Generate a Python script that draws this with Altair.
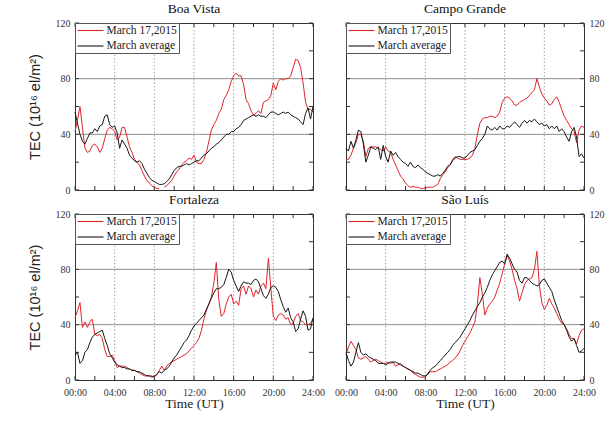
import altair as alt
import pandas as pd

# Universal time grid, quarter-hour samples from 00:00 to 24:00
hours = [i * 0.25 for i in range(97)]

STORM = "March 17,2015"
AVG = "March average"

boa_vista_storm = [
    42, 50, 60, 45, 30, 27, 28, 32, 33, 31, 27, 30, 37, 43, 45, 44,
    42, 36, 38, 45, 45, 38, 31, 27, 22, 20, 18, 14, 10, 7, 5, 3,
    2, 1, 1, None, 2, 3, 5, 7, 10, 13, 15, 18, 20, 21, 23, 22,
    25, 20, 19, 19, 22, 27, 35, 43, 47, 50, 55, 58, 65, 68, 72, 78,
    82, 84, 82, 82, 76, 65, 62, 57, 54, 55, 57, 55, 63, 64, 65, 68,
    77, 72, 78, 80, 79, 80, 80, 82, 88, 94, 93, 88, 77, 63, 58, 58,
    56,
]
boa_vista_avg = [
    56, 48, 40, 35, 33, 37, 41, 41, 44, 42, 46, 47, 53, 54, 47, 45,
    46, 41, 30, 36, 33, 30, 25, 23, 21, 20, 21, 19, 15, 12, 9, 7,
    6, 5, 4, 4, 4.5, 6, 8, 11, 14, 16, 17, 17, 18, 19, 18, 19,
    20, 21, 21, 23, 25, 26, 28, 30, 31, 33, 34, 36, 38, 40, 40, 42,
    42, 44, 45, 47, 50, 51, 52, 53, 54, 53, 54, 53, 53, 52, 54, 56,
    56, 55, 54, 55, 56, 55, 56, 54, 53, 52, 51, 49, 47, 55, 59, 51,
    60,
]

campo_grande_storm = [
    22, 22, 25, 30, 34, 40, 40, 35, 24, 30, 31, 31, 31, 30, 29, 28,
    31, 28, 27, 22, 18, 14, 10, 8, 5, 3, 2, 2.5, 2, 2, 1, 1,
    1.5, 2, 2, 2, 3, 4, 8, 11, 13, 16, 18, 22, 24, 23, 22, 22,
    22, 22, 23, 25, 30, 40, 48, 51, 52, 52, 53, 53, 52, 53, 56, 63,
    66, 67, 66, 64, 61, 61, 63, 64, 65, 66, 68, 70, 72, 80, 74, 69,
    66, 64, 61, 62, 65, 67, 63, 58, 53, 50, 47, 44, 42, 34, 43, 46,
    45,
]
campo_grande_avg = [
    30, 28, 35, 30, 36, 43, 42, 33, 20, 25, 31, 30, 29, 31, 22, 32,
    24, 20, 28, 25, 27, 24, 22, 20, 19, 17, 20, 17, 16, 18, 16, 15,
    13, 12, 11, 10, 10, 11, 10, 12, 14, 17, 18, 21, 23, 24, 24, 23,
    23, 25, 27, 28, 29, 32, 35, 37, 40, 46, 44, 43, 45, 43, 46, 44,
    44, 46, 45, 47, 49, 47, 45, 48, 50, 48, 50, 49, 51, 49, 47, 48,
    46, 47, 44, 46, 44, 46, 42, 44, 42, 38, 35, 42, 45, 38, 24, 26,
    23,
]

fortaleza_storm = [
    45, 50, 56, 38, 42, 38, 42, 44, 33, 32, 33, 30, 22, 17, 17, 18,
    14, 9, 10, 10, 10, 9, 8, 7, 7, 6, 5, 4, 3, 3, 3, 3,
    2, 4, 7, 10, 7, 10, 12, 13, 14, 15, 16, 17, 18, 19, 21, 23,
    25, 27, 30, 36, 44, 50, 55, 60, 70, 85, 58, 46, 48, 55, 60, 62,
    55, 57, 54, 66, 68, 62, 68, 66, 60, 65, 62, 68, 70, 66, 88, 66,
    46, 43, 47, 48, 47, 44, 45, 40, 41, 46, 48, 43, 42, 40, 40, 41,
    44,
]
fortaleza_avg = [
    18, 20, 12, 14, 20, 22, 27, 31, 33, 34, 35, 36, 30, 25, 19, 16,
    13, 11, 10, 9, 9, 8, 8, 7, 7, 6, 6, 5, 4, 3, 3, 2,
    3, 4, 6, 5, 7, 8, 10, 13, 16, 18, 21, 24, 27, 29, 32, 36,
    39, 41, 43, 45, 47, 51, 55, 59, 63, 66, 66, 67, 69, 74, 80, 78,
    72, 68, 64, 68, 71, 70, 70, 69, 72, 73, 71, 66, 61, 59, 62, 67,
    68, 67, 64, 58, 53, 49, 52, 45, 42, 35, 37, 44, 50, 46, 36, 37,
    45,
]

sao_luis_storm = [
    18, 24, 28, 25, 22, 16, 15, 16, 17, 15, 13, 14, 15, 14, 13, 12,
    12, 13, 12, 13, 10, 11, 12, 10, 9, 8, 7, 5, 4, 3, 2, 2,
    2, 5, 6, 6, 6, 7, 8, 9, 10, 11, 13, 14, 16, 18, 21, 25,
    28, 31, 34, 38, 42, 55, 74, 62, 47, 52, 55, 57, 60, 65, 70, 77,
    84, 90, 86, 80, 72, 66, 57, 63, 69, 72, 73, 74, 80, 93, 68, 56,
    51, 54, 59, 55, 52, 48, 44, 41, 40, 37, 33, 30, 30, 26, 32, 36,
    37,
]
sao_luis_avg = [
    20, 14, 10, 13, 20, 27, 20, 18, 19, 17, 16, 15, 14, 12, 12, 12,
    11, 12, 13, 13, 13, 12, 11, 10, 9, 8, 7, 6, 5, 5, 4, 3,
    3, 4, 7, 9, 10, 12, 14, 16, 18, 20, 22, 25, 27, 29, 31, 34,
    37, 40, 43, 47, 50, 53, 56, 60, 63, 67, 72, 76, 79, 82, 85, 86,
    84, 91, 88, 84, 80, 78, 72, 70, 74, 74, 72, 70, 69, 68, 69, 72,
    73, 70, 67, 64, 58, 53, 48, 43, 40, 36, 31, 28, 30, 25, 20, 21,
    23,
]

x_tick_hours = [0, 4, 8, 12, 16, 20, 24]
minor_hours = list(range(0, 25, 2))
dotted_hours = [4, 8, 12, 16, 20]
y_tick_values = [0, 40, 80, 120]
minor_tec = list(range(0, 121, 20))
grid_tec = [40, 80]

SERIF = "Liberation Serif"
SANS = "Liberation Sans"
RED = "#e0242b"
BLACK = "#161616"
GRID = "#8c8c8c"

X_SCALE = alt.Scale(domain=[0, 24], nice=False, zero=False)
Y_SCALE = alt.Scale(domain=[0, 120], nice=False, zero=False)


def panel(name, storm, avg, left, bottom, w, h):
    df = pd.DataFrame({
        "hour": hours + hours,
        "tec": storm + avg,
        "series": [STORM] * len(hours) + [AVG] * len(hours),
    })

    if bottom:
        x_axis = alt.Axis(
            values=x_tick_hours,
            labelExpr="(datum.value < 10 ? '0' : '') + datum.value + ':00'",
            ticks=False, domain=False, grid=False,
            labelFont=SERIF, labelFontSize=10, labelColor="#333",
            labelPadding=7, labelFlush=False,
            title="Time (UT)", titleFont=SERIF, titleFontSize=13.5,
            titleFontWeight="normal", titleColor="#222", titleY=16,
        )
    else:
        x_axis = None

    y_axis = alt.Axis(
        orient="left" if left else "right",
        values=y_tick_values,
        ticks=False, domain=False, grid=False,
        labelFont=SERIF, labelFontSize=10, labelColor="#333", labelPadding=5,
        title="TEC (10¹⁶ el/m²)" if left else None,
        titleFont=SANS, titleFontSize=14.5, titleFontWeight="normal",
        titleColor="#222", titlePadding=13,
    )

    lines = alt.Chart(df).mark_line(
        strokeWidth=1, invalid="break-paths-show-domains"
    ).encode(
        x=alt.X("hour:Q", scale=X_SCALE, axis=x_axis),
        y=alt.Y("tec:Q", scale=Y_SCALE, axis=y_axis),
        color=alt.Color(
            "series:N",
            scale=alt.Scale(domain=[STORM, AVG], range=[RED, BLACK]),
            legend=alt.Legend(
                orient="top-left", offset=0, title=None,
                padding=1.5, rowPadding=3.5,
                strokeColor="#555", fillColor="white",
                symbolType="M-1,0H4.2", symbolSize=100, symbolStrokeWidth=1.1,
                labelFont=SERIF, labelFontSize=11.5, labelColor="#222",
                labelOffset=18, labelLimit=200,
            ),
        ),
    )

    vgrid = alt.Chart(pd.DataFrame({"hour": dotted_hours})).mark_rule(
        color=GRID, strokeWidth=0.8, strokeDash=[1.5, 2]
    ).encode(x=alt.X("hour:Q", scale=X_SCALE, axis=x_axis))

    hgrid = alt.Chart(pd.DataFrame({"tec": grid_tec})).mark_rule(
        color=GRID, strokeWidth=1
    ).encode(y=alt.Y("tec:Q", scale=Y_SCALE, axis=y_axis))

    xt = pd.DataFrame({"hour": minor_hours})
    yt = pd.DataFrame({"tec": minor_tec})
    tick_style = dict(color="#333", strokeWidth=1)
    ticks = [
        alt.Chart(xt).mark_rule(**tick_style).encode(
            x=alt.X("hour:Q", scale=X_SCALE, axis=x_axis),
            y=alt.value(h - 4), y2=alt.value(h)),
        alt.Chart(xt).mark_rule(**tick_style).encode(
            x=alt.X("hour:Q", scale=X_SCALE, axis=x_axis),
            y=alt.value(0), y2=alt.value(4)),
        alt.Chart(yt).mark_rule(**tick_style).encode(
            y=alt.Y("tec:Q", scale=Y_SCALE, axis=y_axis),
            x=alt.value(0), x2=alt.value(4)),
        alt.Chart(yt).mark_rule(**tick_style).encode(
            y=alt.Y("tec:Q", scale=Y_SCALE, axis=y_axis),
            x=alt.value(w - 4), x2=alt.value(w)),
    ]

    return alt.layer(vgrid, hgrid, *ticks, lines).properties(
        width=w, height=h,
        title=alt.TitleParams(
            name, font=SERIF, fontSize=13.5, fontWeight="normal",
            color="#111", anchor="middle", offset=3,
        ),
    )


W = 238
H = 167
chart = alt.concat(
    panel("Boa Vista", boa_vista_storm, boa_vista_avg, True, False, W, H),
    panel("Campo Grande", campo_grande_storm, campo_grande_avg, False, False, W, H),
    panel("Fortaleza", fortaleza_storm, fortaleza_avg, True, True, W, H - 1),
    panel("São Luís", sao_luis_storm, sao_luis_avg, False, True, W, H - 1),
    columns=2,
    spacing=alt.RowColnumber(row=24, column=33),
    bounds="flush",
).resolve_scale(color="independent").resolve_legend(color="independent").properties(
    padding={"left": 26, "top": 1, "right": 3, "bottom": 3},
    background="white",
).configure_view(stroke="#333", strokeWidth=1)

chart.save("out.html", embed_options={"renderer": "svg", "actions": False})
